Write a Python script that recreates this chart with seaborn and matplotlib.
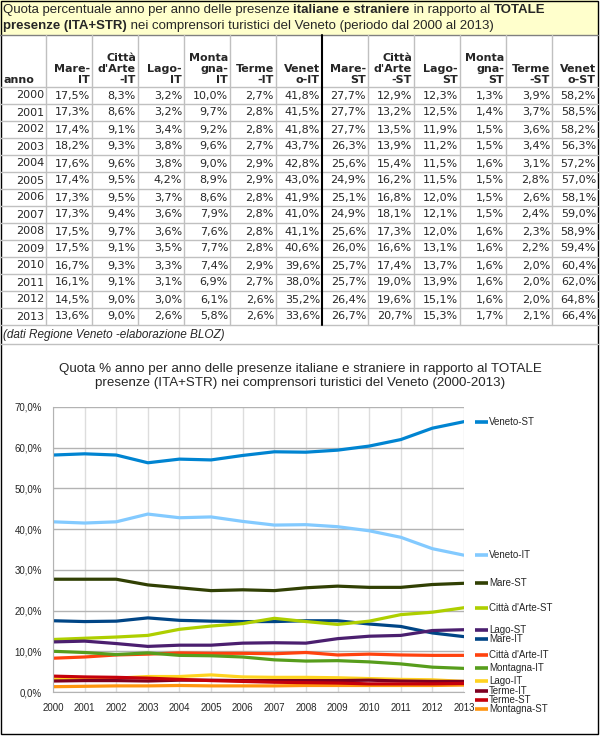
import matplotlib
matplotlib.use("Agg")
import matplotlib.pyplot as plt
import matplotlib.transforms as mtransforms
from matplotlib.ticker import FuncFormatter
import pandas as pd
import seaborn as sns

# -------------------------------------------------------------
# dati (quote % sul totale presenze)
anni = list(range(2000, 2014))
mare_it = [17.5, 17.3, 17.4, 18.2, 17.6, 17.4, 17.3, 17.3, 17.5, 17.5, 16.7, 16.1, 14.5, 13.6]
citta_it = [8.3, 8.6, 9.1, 9.3, 9.6, 9.5, 9.5, 9.4, 9.7, 9.1, 9.3, 9.1, 9.0, 9.0]
lago_it = [3.2, 3.2, 3.4, 3.8, 3.8, 4.2, 3.7, 3.6, 3.6, 3.5, 3.3, 3.1, 3.0, 2.6]
montagna_it = [10.0, 9.7, 9.2, 9.6, 9.0, 8.9, 8.6, 7.9, 7.6, 7.7, 7.4, 6.9, 6.1, 5.8]
terme_it = [2.7, 2.8, 2.8, 2.7, 2.9, 2.9, 2.8, 2.8, 2.8, 2.8, 2.9, 2.7, 2.6, 2.6]
veneto_it = [41.8, 41.5, 41.8, 43.7, 42.8, 43.0, 41.9, 41.0, 41.1, 40.6, 39.6, 38.0, 35.2, 33.6]
mare_st = [27.7, 27.7, 27.7, 26.3, 25.6, 24.9, 25.1, 24.9, 25.6, 26.0, 25.7, 25.7, 26.4, 26.7]
citta_st = [12.9, 13.2, 13.5, 13.9, 15.4, 16.2, 16.8, 18.1, 17.3, 16.6, 17.4, 19.0, 19.6, 20.7]
lago_st = [12.3, 12.5, 11.9, 11.2, 11.5, 11.5, 12.0, 12.1, 12.0, 13.1, 13.7, 13.9, 15.1, 15.3]
montagna_st = [1.3, 1.4, 1.5, 1.5, 1.6, 1.5, 1.5, 1.5, 1.6, 1.6, 1.6, 1.6, 1.6, 1.7]
terme_st = [3.9, 3.7, 3.6, 3.4, 3.1, 2.8, 2.6, 2.4, 2.3, 2.2, 2.0, 2.0, 2.0, 2.1]
veneto_st = [58.2, 58.5, 58.2, 56.3, 57.2, 57.0, 58.1, 59.0, 58.9, 59.4, 60.4, 62.0, 64.8, 66.4]

serie = ["Mare-IT", "Città d'Arte-IT", "Lago-IT", "Montagna-IT", "Terme-IT", "Veneto-IT",
         "Mare-ST", "Città d'Arte-ST", "Lago-ST", "Montagna-ST", "Terme-ST", "Veneto-ST"]
valori = [mare_it, citta_it, lago_it, montagna_it, terme_it, veneto_it,
          mare_st, citta_st, lago_st, montagna_st, terme_st, veneto_st]
intestazioni = ["Mare-\nIT", "Città\nd'Arte\n-IT", "Lago-\nIT", "Monta\ngna-\nIT", "Terme\n-IT", "Venet\no-IT",
                "Mare-\nST", "Città\nd'Arte\n-ST", "Lago-\nST", "Monta\ngna-\nST", "Terme\n-ST", "Venet\no-ST"]
colori = ["#004586", "#ff420e", "#ffd320", "#579d1c", "#7e0021", "#83caff",
          "#314004", "#aecf00", "#4b1f6f", "#ff950e", "#c5000b", "#0084d1"]

titolo_tab = [[("Quota percentuale anno per anno delle presenze ", False), ("italiane e straniere", True),
               (" in rapporto al ", False), ("TOTALE", True)],
              [("presenze (ITA+STR)", True),
               (" nei comprensori turistici del Veneto (periodo dal 2000 al 2013)", False)]]
nota = "(dati Regione Veneto -elaborazione BLOZ)"
titolo_graf = ("Quota % anno per anno delle presenze italiane e straniere in rapporto al TOTALE\n"
               "presenze (ITA+STR) nei comprensori turistici del Veneto (2000-2013)")

# -------------------------------------------------------------
sns.set_style("white")
plt.rcParams["font.family"] = ["Liberation Sans", "DejaVu Sans"]

fig = plt.figure(figsize=(6.0, 7.36), dpi=100)
renderer = fig.canvas.get_renderer()

# overlay in pixel coordinates for the table
ov = fig.add_axes([0, 0, 1, 1])
ov.set_xlim(0, 600)
ov.set_ylim(736, 0)
ov.axis("off")

grigio = "#c0c0c0"
col_w = 46
head_top, head_bot = 35, 87
row_h = 17
tab_bot = head_bot + row_h * len(anni)

ov.add_patch(plt.Rectangle((0, 0), 598, head_top, facecolor="#ffffcc", edgecolor="none"))
ov.plot([0, 598], [head_top, head_top], color="#808080", lw=1)

# titolo con parti in grassetto
for i, riga in enumerate(titolo_tab):
    x = 3
    y = 10 + 15.5 * i
    for testo, grassetto in riga:
        t = ov.text(x, y, testo, fontsize=9.5, fontweight="bold" if grassetto else "normal",
                    va="center", ha="left")
        x += t.get_window_extent(renderer).width

# griglia tabella
for i in range(len(anni) + 1):
    y = head_bot + row_h * i
    ov.plot([0, 598], [y, y], color=grigio, lw=1)
for k in range(1, 13):
    x = col_w * k
    if k == 7:
        ov.plot([x, x], [head_top, tab_bot], color="black", lw=1.5)
    else:
        ov.plot([x, x], [head_top, tab_bot], color=grigio, lw=1)

ov.text(3, head_bot - 2, "anno", fontsize=8, fontweight="bold", family="DejaVu Sans",
        ha="left", va="bottom")
for k, h in enumerate(intestazioni):
    ov.text(col_w * (k + 2) - 2, head_bot - 2, h, fontsize=8, fontweight="bold",
            family="DejaVu Sans", ha="right", va="bottom", multialignment="right", linespacing=1.15)

for i, anno in enumerate(anni):
    y = head_bot + row_h * (i + 0.5)
    ov.text(col_w - 2, y, str(anno), fontsize=8, family="DejaVu Sans", ha="right", va="center")
    for k, v in enumerate(valori):
        ov.text(col_w * (k + 2) - 2, y, f"{v[i]:.1f}%".replace(".", ","), fontsize=8,
                family="DejaVu Sans", ha="right", va="center")

ov.text(3, tab_bot + 10, nota, fontsize=8.5, style="italic", ha="left", va="center")
ov.plot([0, 598], [344, 344], color=grigio, lw=1)
ov.add_patch(plt.Rectangle((0.5, 0.5), 597.5, 733.5, facecolor="none", edgecolor="black", lw=1))

ov.text(300, 376, titolo_graf, fontsize=9.6, ha="center", va="center", linespacing=1.15)

# -------------------------------------------------------------
# grafico a linee
x0, x1, y0, y1 = 53, 464, 407, 692
ax = fig.add_axes([x0 / 600, (736 - y1) / 736, (x1 - x0) / 600, (y1 - y0) / 736])
ax.patch.set_alpha(0)

df = pd.DataFrame({"anno": anni, **dict(zip(serie, valori))})
lungo = df.melt(id_vars="anno", var_name="serie", value_name="quota")
sns.lineplot(data=lungo, x="anno", y="quota", hue="serie", hue_order=serie,
             palette=dict(zip(serie, colori)), linewidth=2.3, legend=False, ax=ax)

ax.set_xlim(2000, 2013)
ax.set_ylim(0, 70)
ax.set_xticks(anni)
ax.set_yticks(range(0, 71, 10))
ax.yaxis.set_major_formatter(FuncFormatter(lambda v, p: f"{v:.1f}%".replace(".", ",")))
ax.set_xlabel("")
ax.set_ylabel("")
ax.tick_params(axis="both", labelsize=7, length=5, color="#b3b3b3", direction="out", pad=3)
for lato in ["top", "right"]:
    ax.spines[lato].set_visible(False)
for lato in ["left", "bottom"]:
    ax.spines[lato].set_color("#b3b3b3")
ax.grid(axis="y", color="#b3b3b3", lw=1)
ax.grid(axis="x", color="#dddddd", lw=1)
ax.set_axisbelow(True)
for l in ax.get_lines():
    l.set_solid_joinstyle("round")

# etichette a destra (legenda accanto all'ultimo valore)
trans = mtransforms.blended_transform_factory(ax.transAxes, ax.transData)
ultimi = sorted(zip(serie, [v[-1] for v in valori], colori), key=lambda t: -t[1])
prec = None
for nome, v, c in ultimi:
    y = v if prec is None else min(v, prec - 2.25)
    prec = y
    ax.plot([1.027, 1.058], [y, y], transform=trans, color=c, lw=2.6, clip_on=False,
            solid_capstyle="butt")
    ax.text(1.061, y, nome, transform=trans, fontsize=7, va="center", ha="left")

fig.savefig("out.png", dpi=100)
